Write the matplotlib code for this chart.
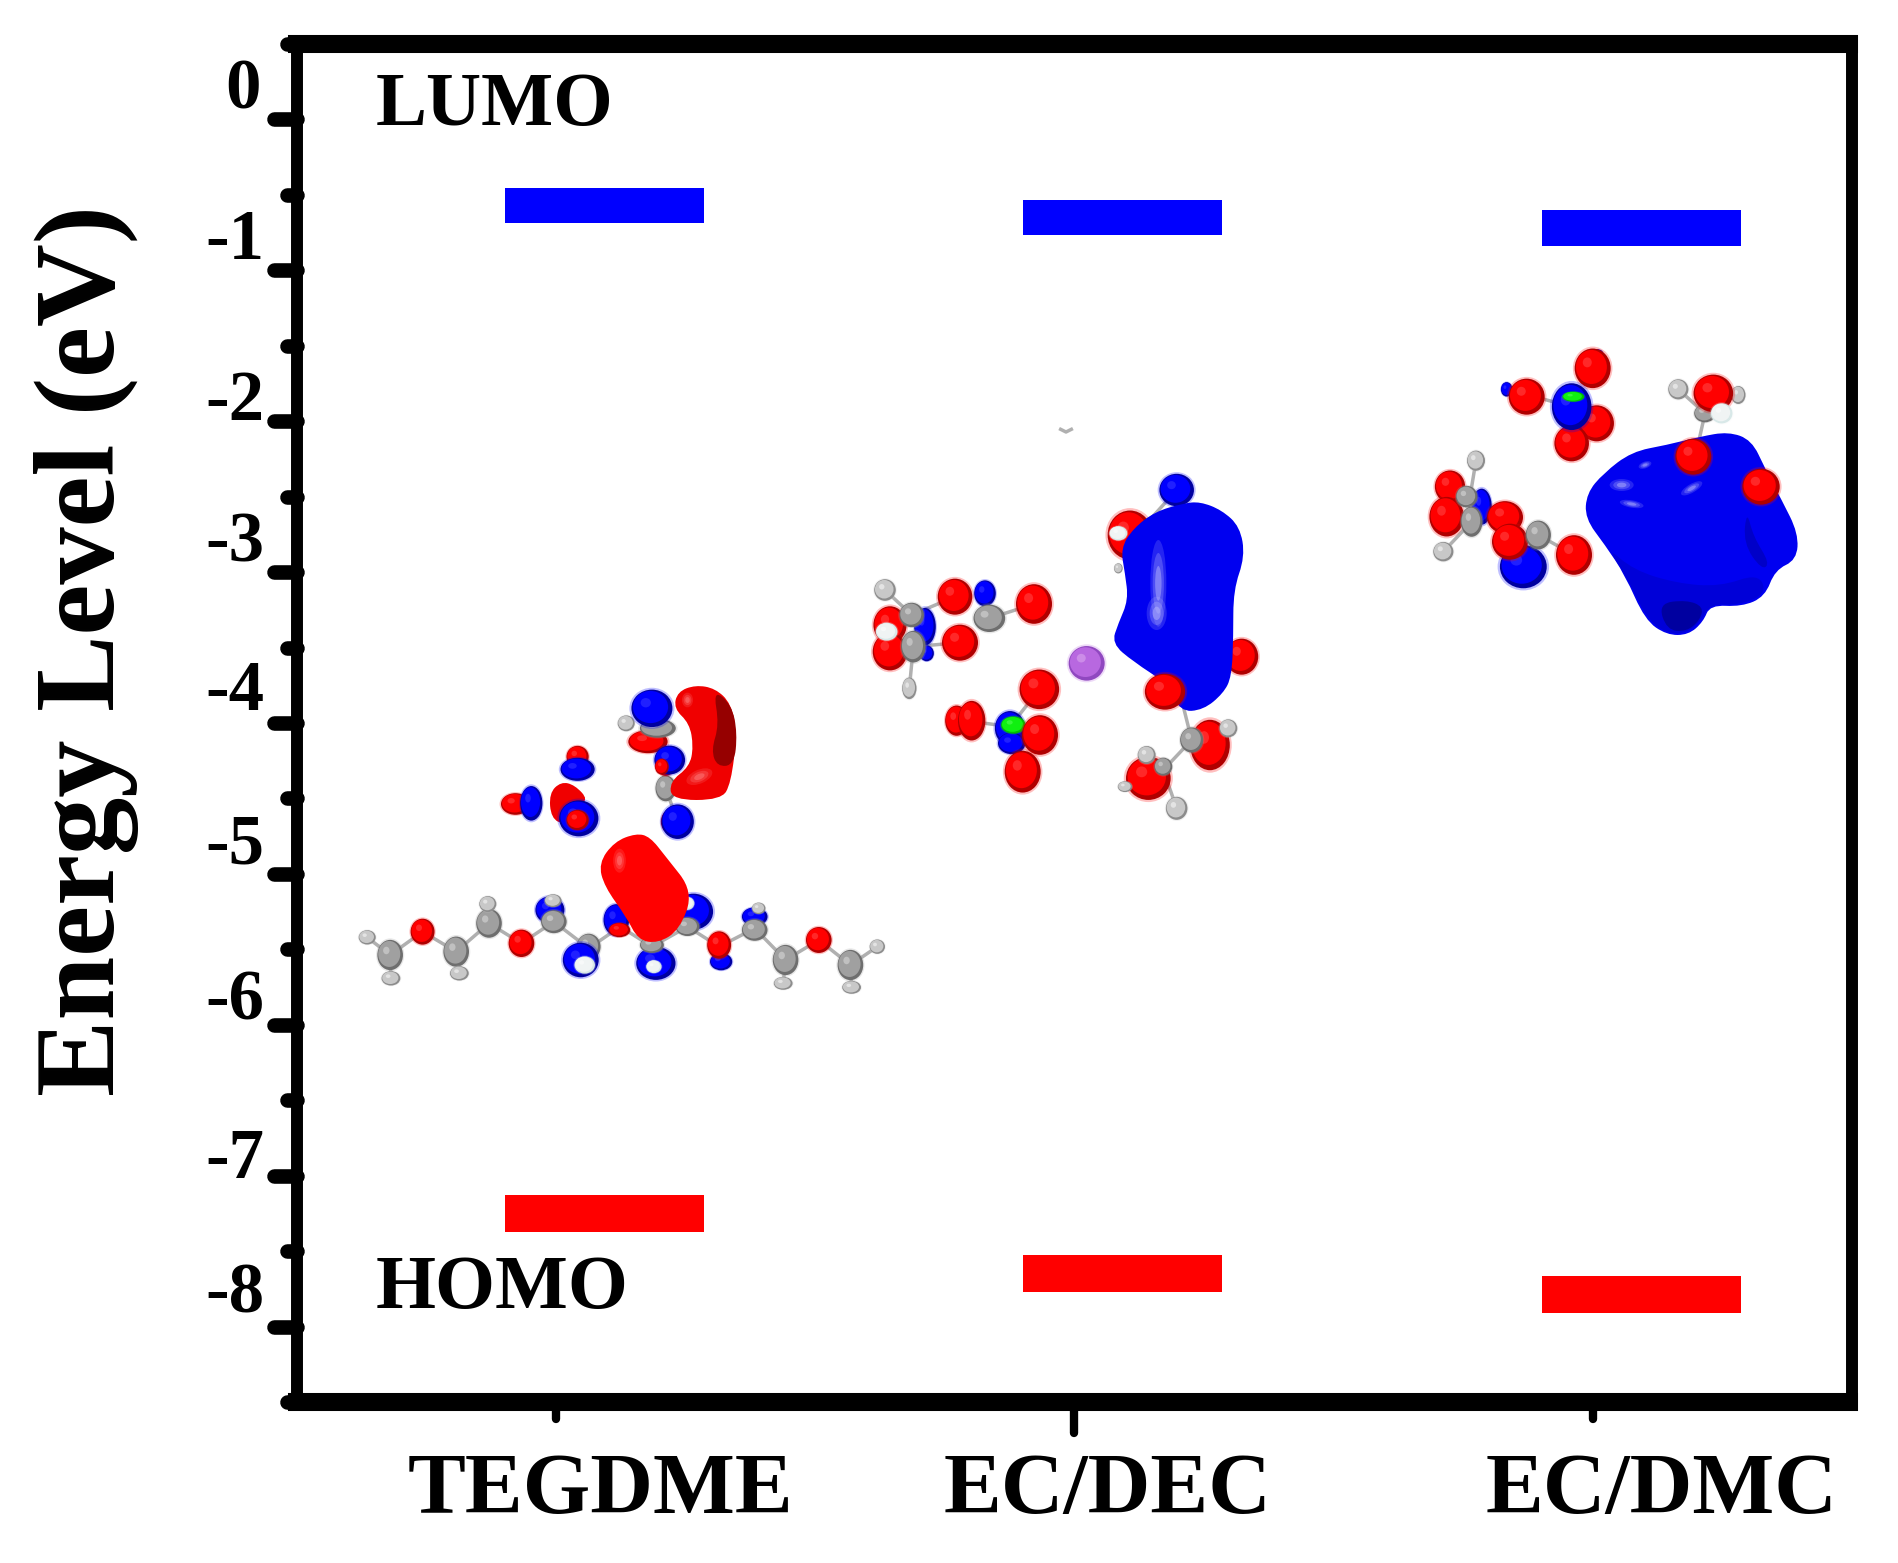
import matplotlib
matplotlib.use("Agg")
import matplotlib.pyplot as plt
from matplotlib.markers import MarkerStyle, TICKLEFT, TICKDOWN
from matplotlib.patches import Ellipse, PathPatch
from matplotlib.path import Path
from matplotlib.transforms import Affine2D, ScaledTranslation

W, H = 1899, 1563
plt.rcParams["font.family"] = ["Liberation Serif", "DejaVu Serif"]
plt.rcParams["font.weight"] = "bold"

# Energy levels (eV)
solvents = ["TEGDME", "EC/DEC", "EC/DMC"]
lumo = [-0.57, -0.65, -0.72]
homo = [-7.25, -7.65, -7.79]
y_ticks = [0, -1, -2, -3, -4, -5, -6, -7, -8]
y_labels = ["0", "-1", "-2", "-3", "-4", "-5", "-6", "-7", "-8"]
y_minor = [0.5, -0.5, -1.5, -2.5, -3.5, -4.5, -5.5, -6.5, -7.5, -8.5]

# Molecule sketches, atoms are (x, y, rx, ry, kind)
COLORS = {"r": ("#b00000", "#ff0000", "#ff5050"), "b": ("#0000a0", "#0000ff", "#4040ff"),
          "g": ("#6e6e6e", "#a0a0a0", "#e0e0e0"), "h": ("#8c8c8c", "#c8c8c8", "#ffffff"),
          "w": ("#d8e8e8", "#f0f4f4", "#ffffff"), "v": ("#9048c0", "#b868e0", "#e0b0f0"),
          "n": ("#00c000", "#10f010", "#60ff60")}

teg_bonds = [[(170, 862), (228, 915), (310, 845), (395, 905), (478, 820), (560, 880), (642, 815), (730, 895),
              (810, 830), (890, 890), (980, 830), (1060, 890), (1150, 835), (1228, 930), (1312, 870), (1392, 945),
              (1460, 890)], [(905, 235), (925, 415), (955, 515)], [(228, 915), (230, 985)], [(395, 905), (403, 970)],
             [(478, 820), (475, 762)], [(1228, 930), (1222, 1000)], [(1392, 945), (1395, 1012)]]
teg_back = [(228, 915, 30, 42, "g"), (395, 905, 30, 42, "g"), (478, 820, 30, 40, "g"), (170, 862, 20, 20, "h"),
            (230, 985, 22, 20, "h"), (403, 970, 22, 20, "h"), (475, 762, 20, 22, "h"), (1222, 1000, 22, 18, "h"),
            (1395, 1012, 22, 18, "h"), (1460, 890, 18, 20, "h"), (1228, 930, 30, 42, "g"), (1392, 945, 30, 42, "g"),
            (310, 845, 28, 36, "r"), (560, 880, 30, 38, "r"), (1312, 870, 30, 36, "r"),
            (632, 780, 34, 38, "b"), (642, 815, 30, 32, "g"), (640, 752, 20, 18, "h"),
            (1150, 800, 30, 26, "b"), (1150, 840, 30, 30, "g"), (1160, 775, 16, 16, "h"),
            (730, 890, 28, 36, "g"), (710, 930, 42, 48, "b"), (720, 945, 24, 24, "w"),
            (1065, 935, 26, 24, "b"), (1060, 885, 28, 38, "r"),
            (800, 810, 30, 44, "b"), (808, 840, 25, 20, "r"),
            (995, 785, 46, 50, "b"), (980, 830, 28, 26, "g"), (980, 760, 16, 18, "w"),
            (900, 940, 46, 46, "b"), (890, 885, 28, 22, "g"), (895, 950, 18, 18, "w"),
            (925, 415, 24, 36, "g"), (930, 515, 16, 28, "r"), (955, 515, 38, 48, "b"),
            (545, 462, 34, 30, "r"), (585, 460, 26, 48, "b"), (702, 320, 26, 30, "r"), (702, 358, 40, 32, "b"),
            (825, 220, 20, 22, "h"), (880, 275, 46, 32, "r"), (905, 235, 42, 26, "g"), (890, 175, 48, 52, "b")]
teg_blobs = [([(1000, 105), (955, 125), (945, 175), (985, 220), (995, 290), (985, 350), (935, 395), (940, 450),
               (1065, 450), (1090, 400), (1105, 250), (1090, 160), (1050, 115)], "#f00000"),
             ([(1045, 118), (1092, 165), (1106, 250), (1098, 345), (1055, 350), (1040, 300), (1060, 225)], "#960000"),
             ([(850, 550), (795, 575), (755, 640), (770, 710), (825, 800), (855, 870), (905, 880), (960, 840),
               (995, 725), (925, 620), (885, 560)], "#ff0000"),
             ([(660, 395), (630, 430), (635, 505), (670, 525), (695, 470), (730, 450), (695, 405)], "#f00000")]
teg_front = [(925, 345, 22, 30, "r"), (935, 330, 36, 40, "b"), (915, 350, 16, 22, "r"),
             (705, 505, 46, 50, "b"), (702, 510, 26, 28, "r")]
teg_glow = [(808, 632, 16, 36, 0), (1010, 380, 36, 20, -30), (980, 150, 14, 22, 0)]

dec_bonds = [[(1000, 770), (1025, 870), (940, 960), (980, 1075)], [(1025, 870), (1135, 835)], [(940, 960), (825, 1010)],
             [(185, 495), (315, 440)], [(190, 590), (330, 578)], [(418, 505), (552, 462)], [(185, 495), (105, 420)],
             [(190, 590), (178, 715)], [(348, 812), (480, 830), (568, 718)], [(480, 830), (518, 965)],
             [(890, 220), (980, 120)], [(632, -62), (648, -54), (664, -62)]]
dec_back = [(105, 420, 30, 30, "h"), (120, 525, 46, 52, "r"), (120, 605, 48, 52, "r"), (225, 530, 30, 52, "b"),
            (230, 610, 20, 22, "b"), (185, 495, 34, 34, "g"), (190, 590, 34, 44, "g"), (110, 545, 30, 25, "w"),
            (178, 715, 20, 30, "h"), (315, 440, 48, 50, "r"), (330, 578, 50, 50, "r"), (405, 430, 30, 36, "b"),
            (418, 505, 44, 38, "g"), (552, 462, 50, 55, "r"), (710, 640, 50, 48, "v"),
            (480, 835, 42, 48, "b"), (485, 880, 38, 30, "b"), (490, 825, 34, 24, "n"), (568, 718, 55, 55, "r"),
            (320, 812, 32, 42, "r"), (365, 812, 38, 55, "r"), (570, 855, 50, 55, "r"), (518, 965, 50, 58, "r"),
            (980, 120, 48, 45, "b"), (840, 255, 62, 68, "r"), (805, 250, 25, 20, "w"), (805, 355, 12, 14, "h"),
            (1175, 620, 46, 50, "r")]
dec_blobs = [([(1000, 160), (915, 185), (850, 235), (812, 295), (825, 370), (835, 450), (805, 520), (785, 580),
               (850, 635), (950, 700), (990, 785), (1060, 780), (1120, 730), (1145, 680), (1150, 560), (1150, 420),
               (1185, 320), (1170, 230), (1115, 180), (1050, 155)], "#0000f0")]
dec_front = [(945, 725, 56, 50, "r"), (1080, 885, 55, 70, "r"), (1025, 870, 32, 35, "g"), (1135, 835, 25, 25, "h"),
             (895, 985, 62, 60, "r"), (940, 950, 25, 25, "g"), (890, 915, 25, 25, "h"), (825, 1010, 20, 15, "h"),
             (980, 1075, 30, 32, "h")]
dec_glow = [(925, 400, 24, 130, 0), (920, 490, 30, 50, 0)]

dmc_bonds = [[(835, 178), (915, 250), (895, 340)], [(1000, 440), (1083, 470)], [(210, 500), (228, 392)],
             [(215, 575), (130, 665)], [(415, 615), (522, 675)], [(320, 178), (515, 230)]]
dmc_back = [(228, 392, 25, 28, "h"), (150, 470, 42, 45, "r"), (140, 560, 48, 55, "r"), (245, 530, 28, 50, "b"),
            (200, 500, 30, 30, "g"), (215, 575, 30, 42, "g"), (130, 665, 28, 27, "h"), (315, 562, 50, 45, "r"),
            (370, 710, 65, 60, "b"), (330, 635, 50, 50, "r"), (415, 615, 35, 40, "g"), (522, 675, 50, 55, "r"),
            (320, 178, 16, 20, "b"), (380, 200, 50, 50, "r"), (593, 72, 16, 13, "b"), (578, 115, 50, 55, "r"),
            (590, 280, 48, 50, "r"), (515, 340, 48, 50, "r"), (515, 230, 55, 65, "b"), (520, 200, 30, 14, "n"),
            (835, 178, 28, 28, "h"), (1015, 195, 20, 25, "h"), (915, 250, 30, 25, "g"), (940, 190, 55, 52, "r"),
            (965, 250, 30, 28, "w")]
dmc_blobs = [([(985, 305), (900, 320), (800, 345), (695, 365), (610, 430), (560, 490), (555, 565), (615, 645),
               (675, 735), (735, 870), (800, 915), (865, 915), (910, 875), (930, 825), (1025, 830), (1095, 800),
               (1125, 720), (1190, 690), (1195, 610), (1145, 510), (1095, 415), (1055, 330)], "#0000f0"),
             ([(620, 650), (700, 720), (830, 760), (960, 770), (1075, 730), (1100, 790), (1020, 825), (930, 822),
               (905, 870), (860, 910), (800, 910), (740, 865), (680, 740)], "#0000d8"),
             ([(775, 820), (860, 810), (910, 830), (900, 870), (860, 905), (800, 900)], "#0000a0"),
             ([(1040, 540), (1060, 620), (1110, 700), (1085, 720), (1030, 640)], "#0000c8")]
dmc_front = [(880, 380, 50, 50, "r"), (1083, 470, 52, 50, "r")]
dmc_glow = [(665, 465, 36, 18, 0), (875, 475, 36, 13, -30), (695, 522, 36, 11, 10), (735, 405, 20, 10, -20)]

# origin and zoom of the traced coordinates: (x0, y0, sx, sy)
teg_frame = (300, 650, 1 / 2.529, 1 / 3)
dec_frame = (850, 450, 1 / 3, 1 / 3)
dmc_frame = (1400, 330, 1 / 3, 1 / 3)


def draw_molecule(ax, frame, bonds, back, blobs, front, glow=(), glow_color="#c8c8ff"):
    x0, y0, sx, sy = frame
    px = Affine2D().scale(sx, sy).translate(x0, y0).scale(1, -1).translate(0, H)
    z = 5

    def ell(x, y, w, h, color, alpha=1.0, angle=0):
        ax.add_patch(Ellipse((x, y), w, h, angle=angle, fc=color, ec="none", alpha=alpha, transform=px, zorder=z,
                             clip_on=False))

    def atoms(items):
        nonlocal z
        for x, y, rx, ry, kind in items:
            dark, main, light = COLORS[kind]
            rx, ry = rx * 1.08, ry * 1.08
            z += 1
            ell(x, y, 2.2 * rx, 2.2 * ry, main, 0.25)
            ell(x, y, 2 * rx, 2 * ry, dark)
            ell(x - 0.07 * rx, y - 0.07 * ry, 1.72 * rx, 1.72 * ry, main)
            ell(x - 0.3 * rx, y - 0.3 * ry, 0.5 * rx, 0.5 * ry, light, 0.5)

    for b in bonds:
        xs, ys = zip(*b)
        ax.plot(xs, ys, color="#b0b0b0", lw=2.5, transform=px, zorder=5, clip_on=False)
    atoms(back)
    for pts, color in blobs:
        n = len(pts)
        mids = [((pts[i][0] + pts[(i + 1) % n][0]) / 2, (pts[i][1] + pts[(i + 1) % n][1]) / 2) for i in range(n)]
        verts, codes = [mids[-1]], [Path.MOVETO]
        for i in range(n):
            verts += [pts[i], mids[i]]
            codes += [Path.CURVE3, Path.CURVE3]
        z += 1
        ax.add_patch(PathPatch(Path(verts, codes), fc=color, ec="none", transform=px, zorder=z, clip_on=False))
    for x, y, rx, ry, ang in glow:
        z += 1
        for f, a in [(1.0, 0.18), (0.7, 0.25), (0.4, 0.4)]:
            ell(x, y, 2 * rx * f, 2 * ry * f, glow_color, a, ang)
    atoms(front)


fig = plt.figure(figsize=(W / 100, H / 100), dpi=100)
ax = fig.add_axes([297 / W, 1 - 1402 / H, (1852 - 297) / W, (1402 - 44) / H])

x = [1, 2, 3]
bar_shift = 0.099
bar_w = 0.384
for xi, lo, ho in zip(x, lumo, homo):
    ax.barh(lo, bar_w, height=0.235, left=xi - bar_shift, color="#0000ff", zorder=3)
    ax.barh(ho, bar_w, height=0.245, left=xi - bar_shift, color="#ff0000", zorder=3)

ax.set_xlim(0.5, 3.5)
ax.set_ylim(-8.5, 0.5)
ax.set_xticks(x, labels=solvents)
ax.set_yticks(y_ticks, labels=y_labels)
ax.set_yticks(y_minor, minor=True)

ax.spines["top"].set_linewidth(13)
ax.spines["bottom"].set_linewidth(13)
ax.spines["left"].set_linewidth(8.6)
ax.spines["right"].set_linewidth(8.6)
ax.spines["top"].set_bounds(0.5, 3.494)
ax.spines["bottom"].set_bounds(0.5, 3.494)

ax.tick_params(axis="y", which="major", length=16.5, width=10.5, pad=7, labelsize=51)
ax.tick_params(axis="y", which="minor", length=7, width=10.5)
ax.tick_params(axis="x", which="major", length=12, width=6, pad=25, labelsize=62.5)

# rounded tick ends, second x tick is longer than the others
for t in ax.yaxis.get_major_ticks() + ax.yaxis.get_minor_ticks():
    t.tick1line.set_marker(MarkerStyle(TICKLEFT, capstyle="round"))
for i, t in enumerate(ax.xaxis.get_major_ticks()):
    t.tick1line.set_marker(MarkerStyle(TICKDOWN, capstyle="round"))
    if i == 1:
        t.tick1line.set_markersize(22)

# the labels sit above / to the right of their ticks, each a little differently
y_shift = [(-4, 36), (0, 36), (0, 26), (0, 36), (0, 38), (0, 35), (0, 30), (0, 23), (0, 39)]
for lab, (dx, dy) in zip(ax.get_yticklabels(), y_shift):
    lab.set_transform(lab.get_transform() + ScaledTranslation(dx / 100, dy / 100, fig.dpi_scale_trans))
for lab, dx in zip(ax.get_xticklabels(), [44, 33, 69]):
    lab.set_transform(lab.get_transform() + ScaledTranslation(dx / 100, 0, fig.dpi_scale_trans))

ax.set_ylabel("Energy Level (eV)", fontsize=82.5, fontweight="bold", va="baseline")
ax.yaxis.set_label_coords(-0.118, 0.553)

ax.text(0.652, -0.04, "LUMO", fontsize=55, fontweight="bold", va="baseline", ha="left")
ax.text(0.652, -7.88, "HOMO", fontsize=55.5, fontweight="bold", va="baseline", ha="left")

draw_molecule(ax, teg_frame, teg_bonds, teg_back, teg_blobs, teg_front, teg_glow, "#ff9090")
draw_molecule(ax, dec_frame, dec_bonds, dec_back, dec_blobs, dec_front, dec_glow)
draw_molecule(ax, dmc_frame, dmc_bonds, dmc_back, dmc_blobs, dmc_front, dmc_glow)

fig.savefig("out.png", dpi=100, facecolor="white")
